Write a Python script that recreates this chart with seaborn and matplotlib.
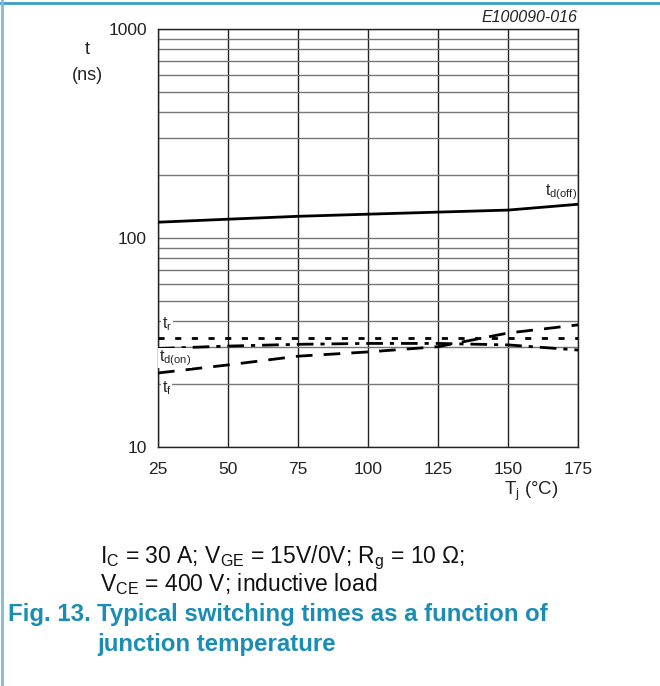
import matplotlib
matplotlib.use("Agg")
import matplotlib.pyplot as plt
import matplotlib.lines as mlines
import seaborn as sns
import numpy as np
import pandas as pd
from matplotlib.ticker import FixedLocator, NullFormatter, LogLocator

# ---- data ----
tj = [25, 50, 75, 100, 125, 150, 175]
td_off = [119, 123, 127, 130, 133, 136, 145]
t_r = [33.2, 33.2, 33.2, 33.2, 33.2, 33.2, 33.2]
td_on = [29.6, 30.4, 31.0, 31.3, 31.3, 30.8, 29.1]
t_f = [22.6, 24.7, 27.2, 28.5, 30.2, 35.1, 38.4]
x_ticks = [25, 50, 75, 100, 125, 150, 175]
y_ticks = [10, 100, 1000]
y_tick_labels = ["10", "100", "1000"]

sns.set_theme(style="white")
plt.rcParams['font.family'] = ['Liberation Sans', 'DejaVu Sans']
plt.rcParams['mathtext.fontset'] = 'custom'
plt.rcParams['mathtext.rm'] = 'Liberation Sans'
plt.rcParams['mathtext.it'] = 'Liberation Sans:italic'
plt.rcParams['mathtext.bf'] = 'Liberation Sans:bold'

fig = plt.figure(figsize=(6.6, 6.86), dpi=100)
ax = fig.add_axes([158/660, 1-447/686, 420/660, 418/686])

df = pd.DataFrame({"Tj": tj, "td_off": td_off, "t_r": t_r, "td_on": td_on, "t_f": t_f})

sns.lineplot(data=df, x="Tj", y="td_off", ax=ax, color="black", lw=2.0, zorder=5)
sns.lineplot(data=df, x="Tj", y="t_r", ax=ax, color="black", lw=2.0, zorder=5)
ax.lines[-1].set_dashes([2.2, 3.8])
sns.lineplot(data=df, x="Tj", y="td_on", ax=ax, color="black", lw=2.0, zorder=5)
ax.lines[-1].set_dashes([6, 2.5, 1.5, 2.5])
sns.lineplot(data=df, x="Tj", y="t_f", ax=ax, color="black", lw=2.0, zorder=5)
ax.lines[-1].set_dashes([6, 4])

ax.set_yscale("log")
ax.set_xlim(25, 175)
ax.set_ylim(10, 1000)
ax.xaxis.set_major_locator(FixedLocator(x_ticks))
ax.set_xticklabels([str(v) for v in x_ticks])
ax.yaxis.set_major_locator(FixedLocator(y_ticks))
ax.set_yticklabels(y_tick_labels)
ax.yaxis.set_minor_locator(LogLocator(base=10, subs=np.arange(2, 10)))
ax.yaxis.set_minor_formatter(NullFormatter())
ax.tick_params(axis='both', which='both', length=0, labelsize=12.5, colors='#222222')
ax.tick_params(axis='x', pad=10.5)
ax.tick_params(axis='y', pad=8)

ax.grid(True, axis='x', which='major', color='#222222', lw=1.0)
ax.grid(True, axis='y', which='both', color='#777777', lw=1.0)
ax.set_axisbelow(True)
for s in ax.spines.values():
    s.set_color('#222222')
    s.set_linewidth(1.0)
ax.set_xlabel("")
ax.set_ylabel("")

# curve labels
fig.text(545/660, 1-192/686, r"t$_{\mathrm{d(off)}}$", fontsize=11.5, ha='left', va='center')
bb = dict(facecolor='white', edgecolor='none', pad=0.5)
fig.text(162/660, 1-324/686, r"t$_\mathrm{r}$", fontsize=11.5, ha='left', va='center', bbox=bb)
fig.text(159/660, 1-358/686, r"t$_{\mathrm{d(on)}}$", fontsize=11.5, ha='left', va='center', bbox=bb)
fig.text(162/660, 1-388/686, r"t$_\mathrm{f}$", fontsize=11.5, ha='left', va='center', bbox=bb)

# axis labels
fig.text(87/660, 1-50/686, "t", fontsize=13, ha='center', va='center', color='#222222')
fig.text(87/660, 1-76/686, "(ns)", fontsize=13, ha='center', va='center', color='#222222')
fig.text(531/660, 1-491/686, r"T$_\mathrm{j}$ (°C)", fontsize=13.5, ha='center', va='center', color='#222222')
fig.text(577/660, 1-18/686, "E100090-016", fontsize=11.5, style='italic', ha='right', va='center', color='#222222')

# caption
fig.text(100/660, 1-558/686, r"I$_\mathrm{C}$ = 30 A; V$_\mathrm{GE}$ = 15V/0V; R$_\mathrm{g}$ = 10 Ω;", fontsize=16.5, ha='left', va='center', color='#111111')
fig.text(100/660, 1-584/686, r"V$_\mathrm{CE}$ = 400 V; inductive load", fontsize=16.5, ha='left', va='center', color='#111111')
teal = '#1a8db5'
fig.text(8/660, 1-614/686, "Fig. 13.", fontsize=17.3, fontweight='bold', ha='left', va='center', color=teal)
fig.text(97/660, 1-614/686, "Typical switching times as a function of", fontsize=17.3, fontweight='bold', ha='left', va='center', color=teal)
fig.text(97/660, 1-644/686, "junction temperature", fontsize=17.3, fontweight='bold', ha='left', va='center', color=teal)

# teal page border
fig.add_artist(mlines.Line2D([0, 1], [1-2.5/686, 1-2.5/686], transform=fig.transFigure, color='#3a9fc0', lw=2))
fig.add_artist(mlines.Line2D([2/660, 2/660], [0, 1], transform=fig.transFigure, color='#7fbcd2', lw=2))

fig.savefig("out.png", dpi=100)
